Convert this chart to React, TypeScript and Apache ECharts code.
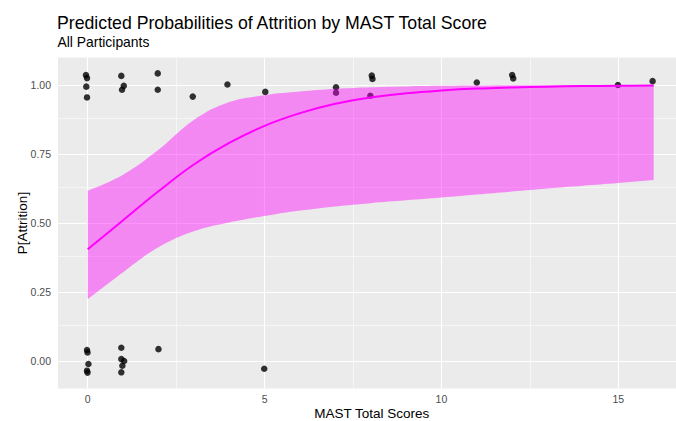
import React, { useEffect, useRef } from "react";
import * as echarts from "echarts";

const titleText = "Predicted Probabilities of Attrition by MAST Total Score";
const subtitleText = "All Participants";
const xAxisTitle = "MAST Total Scores";
const yAxisTitle = "P[Attrition]";

// Axis breaks
const xTicks = [0, 5, 10, 15];
const xMinorTicks = [2.5, 7.5, 12.5];
const yTicks = [0, 0.25, 0.5, 0.75, 1];
const yMinorTicks = [0.125, 0.375, 0.625, 0.875];

// Observed participants: MAST score and attrition outcome (both jittered)
const obsScores = [
  -0.05, -0.02, -0.04, -0.02,
  0.95, 1.02, 0.97,
  1.98, 1.98,
  2.97, 3.95, 5.02,
  7.02, 7.02,
  8.03, 8.05, 7.99,
  11.0, 12.0, 12.03, 14.99, 15.97,
  -0.02, -0.005, 0.02, -0.02, -0.005,
  0.95, 0.95, 1.03, 0.98, 0.95,
  2.0, 4.99,
];
const obsOutcome = [
  1.036, 1.025, 0.994, 0.955,
  1.033, 0.997, 0.983,
  1.042, 0.983,
  0.958, 1.002, 0.975,
  0.992, 0.972,
  1.034, 1.022, 0.961,
  1.009, 1.036, 1.024, 1.0, 1.014,
  0.04, 0.031, -0.011, -0.035, -0.042,
  0.048, 0.007, 0.0, -0.017, -0.041,
  0.043, -0.028,
];

// Fitted probability with its confidence band
const curveScores = [0, 1, 2, 3, 4, 5, 6, 7, 8, 9, 10, 11, 12, 13, 14, 15, 16];
const fitted = [0.405, 0.51, 0.615, 0.712, 0.79, 0.852, 0.898, 0.932, 0.955, 0.97, 0.98, 0.987, 0.991, 0.994, 0.996, 0.997, 0.998];
const lower = [0.224, 0.322, 0.412, 0.47, 0.502, 0.525, 0.545, 0.56, 0.572, 0.582, 0.592, 0.603, 0.614, 0.625, 0.635, 0.645, 0.656];
const upper = [0.617, 0.675, 0.765, 0.873, 0.938, 0.963, 0.976, 0.986, 0.992, 0.995, 0.997, 0.998, 0.999, 0.999, 1.0, 1.0, 1.0];

const FONT = "'Liberation Sans', Arial, Helvetica, sans-serif";

// Panel geometry and axis extents
const X_MIN = -0.84;
const X_MAX = 16.9;
const Y_MIN = -0.1;
const Y_MAX = 1.1;
const PANEL_LEFT = 58;
const PANEL_TOP = 57.4;
const PANEL_WIDTH = 627.5;
const PANEL_HEIGHT = 331.2;

export default function App() {
  const ref = useRef<HTMLDivElement>(null);

  useEffect(() => {
    if (!ref.current) return;
    const chart = echarts.init(ref.current, null, { renderer: "svg" });

    const points = obsScores.map((x, i) => [x, obsOutcome[i]]);
    const bandWidth = curveScores.map((_, i) => upper[i] - lower[i]);
    const fitLine = curveScores.map((x, i) => [x, fitted[i]]);

    // The band is stacked on a category axis that spans exactly the curve's score range
    const pxPerUnit = PANEL_WIDTH / (X_MAX - X_MIN);
    const bandLeft = PANEL_LEFT + (curveScores[0] - X_MIN) * pxPerUnit;
    const bandWidthPx = (curveScores[curveScores.length - 1] - curveScores[0]) * pxPerUnit;

    const gridLines = [
      ...yTicks.map((v) => ({ yAxis: v, lineStyle: { width: 1.1 } })),
      ...yMinorTicks.map((v) => ({ yAxis: v, lineStyle: { width: 0.55 } })),
      ...xTicks.map((v) => ({ xAxis: v, lineStyle: { width: 1.1 } })),
      ...xMinorTicks.map((v) => ({ xAxis: v, lineStyle: { width: 0.55 } })),
    ];

    const axisText = { color: "#4D4D4D", fontSize: 10.5, fontFamily: FONT };
    const axisTitleText = { color: "#000000", fontSize: 13.5, fontFamily: FONT };
    const hidden = {
      axisLine: { show: false },
      axisTick: { show: false },
      axisLabel: { show: false },
      splitLine: { show: false },
    };

    chart.setOption({
      animation: false,
      backgroundColor: "#FFFFFF",
      title: [
        {
          text: titleText,
          left: 57,
          top: 13.5,
          padding: 0,
          textStyle: { fontFamily: FONT, fontSize: 17.7, fontWeight: "normal", color: "#000000" },
        },
        {
          text: subtitleText,
          left: 57.5,
          top: 34.5,
          padding: 0,
          textStyle: { fontFamily: FONT, fontSize: 13.9, fontWeight: "normal", color: "#000000" },
        },
      ],
      grid: [
        {
          left: PANEL_LEFT,
          top: PANEL_TOP,
          width: PANEL_WIDTH,
          height: PANEL_HEIGHT,
          show: true,
          backgroundColor: "#EBEBEB",
          borderWidth: 0,
          containLabel: false,
          outerBoundsMode: "none",
        },
        {
          left: bandLeft,
          top: PANEL_TOP,
          width: bandWidthPx,
          height: PANEL_HEIGHT,
          show: false,
          containLabel: false,
          outerBoundsMode: "none",
        },
      ],
      xAxis: [
        {
          type: "value",
          gridIndex: 0,
          min: X_MIN,
          max: X_MAX,
          axisLine: { show: false },
          splitLine: { show: false },
          axisTick: { show: true, customValues: xTicks, length: 3.7, lineStyle: { color: "#333333", width: 1 } },
          axisLabel: { customValues: xTicks, margin: 5, ...axisText },
          name: xAxisTitle,
          nameLocation: "middle",
          nameGap: 18,
          nameMoveOverlap: false,
          nameTextStyle: axisTitleText,
        },
        {
          type: "category",
          gridIndex: 1,
          boundaryGap: false,
          data: curveScores.map(String),
          ...hidden,
        },
      ],
      yAxis: [
        {
          type: "value",
          gridIndex: 0,
          min: Y_MIN,
          max: Y_MAX,
          axisLine: { show: false },
          splitLine: { show: false },
          axisTick: { show: true, customValues: yTicks, length: 3.7, lineStyle: { color: "#333333", width: 1 } },
          axisLabel: {
            customValues: yTicks,
            margin: 7,
            formatter: (v: number) => v.toFixed(2),
            ...axisText,
          },
          name: yAxisTitle,
          nameLocation: "middle",
          nameGap: 29,
          nameRotate: 90,
          nameMoveOverlap: false,
          nameTextStyle: axisTitleText,
        },
        {
          type: "value",
          gridIndex: 1,
          min: Y_MIN,
          max: Y_MAX,
          ...hidden,
        },
      ],
      series: [
        {
          type: "line",
          xAxisIndex: 0,
          yAxisIndex: 0,
          data: [],
          z: 1,
          silent: true,
          markLine: {
            silent: true,
            z: 1,
            symbol: ["none", "none"],
            label: { show: false },
            lineStyle: { color: "#FFFFFF", type: "solid" },
            emphasis: { disabled: true },
            data: gridLines,
          },
        },
        {
          type: "scatter",
          xAxisIndex: 0,
          yAxisIndex: 0,
          data: points,
          z: 2,
          symbolSize: 6.5,
          itemStyle: { color: "#000000" },
          silent: true,
        },
        {
          type: "line",
          xAxisIndex: 1,
          yAxisIndex: 1,
          data: lower,
          stack: "band",
          z: 3,
          smooth: 0.4,
          showSymbol: false,
          symbol: "none",
          lineStyle: { opacity: 0 },
          silent: true,
        },
        {
          type: "line",
          xAxisIndex: 1,
          yAxisIndex: 1,
          data: bandWidth,
          stack: "band",
          z: 3,
          smooth: 0.4,
          showSymbol: false,
          symbol: "none",
          lineStyle: { opacity: 0 },
          areaStyle: { color: "rgba(255, 0, 255, 0.42)", opacity: 1 },
          silent: true,
        },
        {
          type: "line",
          xAxisIndex: 0,
          yAxisIndex: 0,
          data: fitLine,
          z: 4,
          smooth: 0.4,
          showSymbol: false,
          symbol: "none",
          lineStyle: { color: "#FF00FF", width: 2 },
          silent: true,
        },
      ],
    });

    return () => chart.dispose();
  }, []);

  return (
    <div
      ref={ref}
      style={{ position: "absolute", left: 0, top: 0, width: 676, height: 421 }}
    />
  );
}
